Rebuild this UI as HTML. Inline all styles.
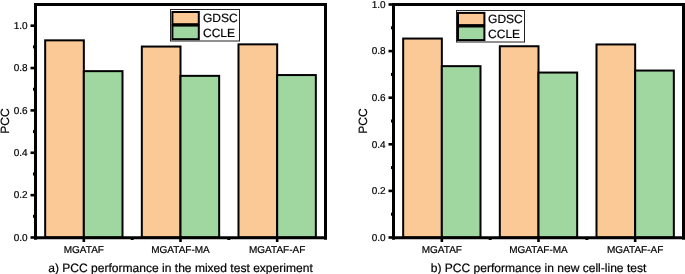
<!DOCTYPE html>
<html><head><meta charset="utf-8"><style>
html,body{margin:0;padding:0;background:#fff;}
body{width:685px;height:274px;overflow:hidden;}
svg{display:block;font-family:"Liberation Sans", sans-serif;will-change:transform;text-rendering:geometricPrecision;}
text{stroke:#000;stroke-width:0.2px;}
</style></head><body>
<svg width="685" height="274" viewBox="0 0 685 274">
<rect width="685" height="274" fill="#fff"/>
<rect x="45.17" y="40.35" width="38.67" height="197.15" fill="#FBC996" stroke="#000" stroke-width="2.0"/>
<rect x="83.83" y="71.15" width="38.67" height="166.35" fill="#A0D6A0" stroke="#000" stroke-width="2.0"/>
<rect x="141.83" y="46.55" width="38.67" height="190.95" fill="#FBC996" stroke="#000" stroke-width="2.0"/>
<rect x="180.50" y="75.85" width="38.67" height="161.65" fill="#A0D6A0" stroke="#000" stroke-width="2.0"/>
<rect x="238.50" y="44.35" width="38.67" height="193.15" fill="#FBC996" stroke="#000" stroke-width="2.0"/>
<rect x="277.17" y="75.05" width="38.67" height="162.45" fill="#A0D6A0" stroke="#000" stroke-width="2.0"/>
<line x1="30.5" y1="237.50" x2="35.5" y2="237.50" stroke="#000" stroke-width="2.6"/>
<text x="27.6" y="240.80" font-size="10" text-anchor="end" fill="#000">0.0</text>
<line x1="33.0" y1="216.32" x2="35.5" y2="216.32" stroke="#000" stroke-width="3"/>
<line x1="30.5" y1="195.14" x2="35.5" y2="195.14" stroke="#000" stroke-width="2.6"/>
<text x="27.6" y="198.44" font-size="10" text-anchor="end" fill="#000">0.2</text>
<line x1="33.0" y1="173.95" x2="35.5" y2="173.95" stroke="#000" stroke-width="3"/>
<line x1="30.5" y1="152.77" x2="35.5" y2="152.77" stroke="#000" stroke-width="2.6"/>
<text x="27.6" y="156.07" font-size="10" text-anchor="end" fill="#000">0.4</text>
<line x1="33.0" y1="131.59" x2="35.5" y2="131.59" stroke="#000" stroke-width="3"/>
<line x1="30.5" y1="110.41" x2="35.5" y2="110.41" stroke="#000" stroke-width="2.6"/>
<text x="27.6" y="113.71" font-size="10" text-anchor="end" fill="#000">0.6</text>
<line x1="33.0" y1="89.23" x2="35.5" y2="89.23" stroke="#000" stroke-width="3"/>
<line x1="30.5" y1="68.05" x2="35.5" y2="68.05" stroke="#000" stroke-width="2.6"/>
<text x="27.6" y="71.35" font-size="10" text-anchor="end" fill="#000">0.8</text>
<line x1="33.0" y1="46.86" x2="35.5" y2="46.86" stroke="#000" stroke-width="3"/>
<line x1="30.5" y1="25.68" x2="35.5" y2="25.68" stroke="#000" stroke-width="2.6"/>
<text x="27.6" y="28.98" font-size="10" text-anchor="end" fill="#000">1.0</text>
<line x1="83.83" y1="237.5" x2="83.83" y2="242.0" stroke="#000" stroke-width="2.6"/>
<text x="83.83" y="253" font-size="10" text-anchor="middle" fill="#000">MGATAF</text>
<line x1="180.50" y1="237.5" x2="180.50" y2="242.0" stroke="#000" stroke-width="2.6"/>
<text x="180.50" y="253" font-size="10" text-anchor="middle" fill="#000">MGATAF-MA</text>
<line x1="277.17" y1="237.5" x2="277.17" y2="242.0" stroke="#000" stroke-width="2.6"/>
<text x="277.17" y="253" font-size="10" text-anchor="middle" fill="#000">MGATAF-AF</text>
<line x1="132.17" y1="237.5" x2="132.17" y2="240.0" stroke="#000" stroke-width="3"/>
<line x1="228.83" y1="237.5" x2="228.83" y2="240.0" stroke="#000" stroke-width="3"/>
<path d="M34.0 4.5H327.0M34.0 237.75H327.0M35.5 3.0V239.85M325.5 3.0V239.85" fill="none" stroke="#000" stroke-width="3"/>
<text transform="translate(9.1,121.0) rotate(-90)" x="0" y="0" font-size="12" text-anchor="middle" fill="#000">PCC</text>
<text x="180.50" y="271.6" font-size="12.06" text-anchor="middle" fill="#000">a) PCC performance in the mixed test experiment</text>
<rect x="170.5" y="9.5" width="69.0" height="31.5" fill="#fff" stroke="#222" stroke-width="1"/>
<rect x="172.40" y="12.00" width="26.4" height="12.2" fill="#FBC996" stroke="#000" stroke-width="2"/>
<rect x="172.40" y="25.60" width="26.4" height="13.6" fill="#A0D6A0" stroke="#000" stroke-width="2"/>
<text x="203.00" y="22.00" font-size="12" fill="#000">GDSC</text>
<text x="203.00" y="37.00" font-size="12" fill="#000">CCLE</text>
<rect x="403.17" y="38.55" width="38.67" height="198.95" fill="#FBC996" stroke="#000" stroke-width="2.0"/>
<rect x="441.83" y="66.15" width="38.67" height="171.35" fill="#A0D6A0" stroke="#000" stroke-width="2.0"/>
<rect x="499.83" y="46.25" width="38.67" height="191.25" fill="#FBC996" stroke="#000" stroke-width="2.0"/>
<rect x="538.50" y="72.55" width="38.67" height="164.95" fill="#A0D6A0" stroke="#000" stroke-width="2.0"/>
<rect x="596.50" y="44.45" width="38.67" height="193.05" fill="#FBC996" stroke="#000" stroke-width="2.0"/>
<rect x="635.17" y="70.55" width="38.67" height="166.95" fill="#A0D6A0" stroke="#000" stroke-width="2.0"/>
<line x1="388.5" y1="237.50" x2="393.5" y2="237.50" stroke="#000" stroke-width="2.6"/>
<text x="385.6" y="240.80" font-size="10" text-anchor="end" fill="#000">0.0</text>
<line x1="391.0" y1="214.20" x2="393.5" y2="214.20" stroke="#000" stroke-width="3"/>
<line x1="388.5" y1="190.90" x2="393.5" y2="190.90" stroke="#000" stroke-width="2.6"/>
<text x="385.6" y="194.20" font-size="10" text-anchor="end" fill="#000">0.2</text>
<line x1="391.0" y1="167.60" x2="393.5" y2="167.60" stroke="#000" stroke-width="3"/>
<line x1="388.5" y1="144.30" x2="393.5" y2="144.30" stroke="#000" stroke-width="2.6"/>
<text x="385.6" y="147.60" font-size="10" text-anchor="end" fill="#000">0.4</text>
<line x1="391.0" y1="121.00" x2="393.5" y2="121.00" stroke="#000" stroke-width="3"/>
<line x1="388.5" y1="97.70" x2="393.5" y2="97.70" stroke="#000" stroke-width="2.6"/>
<text x="385.6" y="101.00" font-size="10" text-anchor="end" fill="#000">0.6</text>
<line x1="391.0" y1="74.40" x2="393.5" y2="74.40" stroke="#000" stroke-width="3"/>
<line x1="388.5" y1="51.10" x2="393.5" y2="51.10" stroke="#000" stroke-width="2.6"/>
<text x="385.6" y="54.40" font-size="10" text-anchor="end" fill="#000">0.8</text>
<line x1="391.0" y1="27.80" x2="393.5" y2="27.80" stroke="#000" stroke-width="3"/>
<line x1="388.5" y1="4.50" x2="393.5" y2="4.50" stroke="#000" stroke-width="2.6"/>
<text x="385.6" y="7.80" font-size="10" text-anchor="end" fill="#000">1.0</text>
<line x1="441.83" y1="237.5" x2="441.83" y2="242.0" stroke="#000" stroke-width="2.6"/>
<text x="441.83" y="253" font-size="10" text-anchor="middle" fill="#000">MGATAF</text>
<line x1="538.50" y1="237.5" x2="538.50" y2="242.0" stroke="#000" stroke-width="2.6"/>
<text x="538.50" y="253" font-size="10" text-anchor="middle" fill="#000">MGATAF-MA</text>
<line x1="635.17" y1="237.5" x2="635.17" y2="242.0" stroke="#000" stroke-width="2.6"/>
<text x="635.17" y="253" font-size="10" text-anchor="middle" fill="#000">MGATAF-AF</text>
<line x1="490.17" y1="237.5" x2="490.17" y2="240.0" stroke="#000" stroke-width="3"/>
<line x1="586.83" y1="237.5" x2="586.83" y2="240.0" stroke="#000" stroke-width="3"/>
<path d="M392.0 4.5H685.0M392.0 237.75H685.0M393.5 3.0V239.85M683.5 3.0V239.85" fill="none" stroke="#000" stroke-width="3"/>
<text transform="translate(367.2,121.0) rotate(-90)" x="0" y="0" font-size="12" text-anchor="middle" fill="#000">PCC</text>
<text x="538.50" y="271.6" font-size="12.06" text-anchor="middle" fill="#000">b) PCC performance in new cell-line test</text>
<rect x="456.5" y="10.5" width="68.0" height="31.5" fill="#fff" stroke="#222" stroke-width="1"/>
<rect x="458.00" y="12.90" width="26.4" height="12.2" fill="#FBC996" stroke="#000" stroke-width="2"/>
<rect x="458.00" y="26.50" width="26.4" height="13.6" fill="#A0D6A0" stroke="#000" stroke-width="2"/>
<text x="488.10" y="23.00" font-size="12" fill="#000">GDSC</text>
<text x="488.10" y="37.60" font-size="12" fill="#000">CCLE</text>
</svg>
</body></html>
